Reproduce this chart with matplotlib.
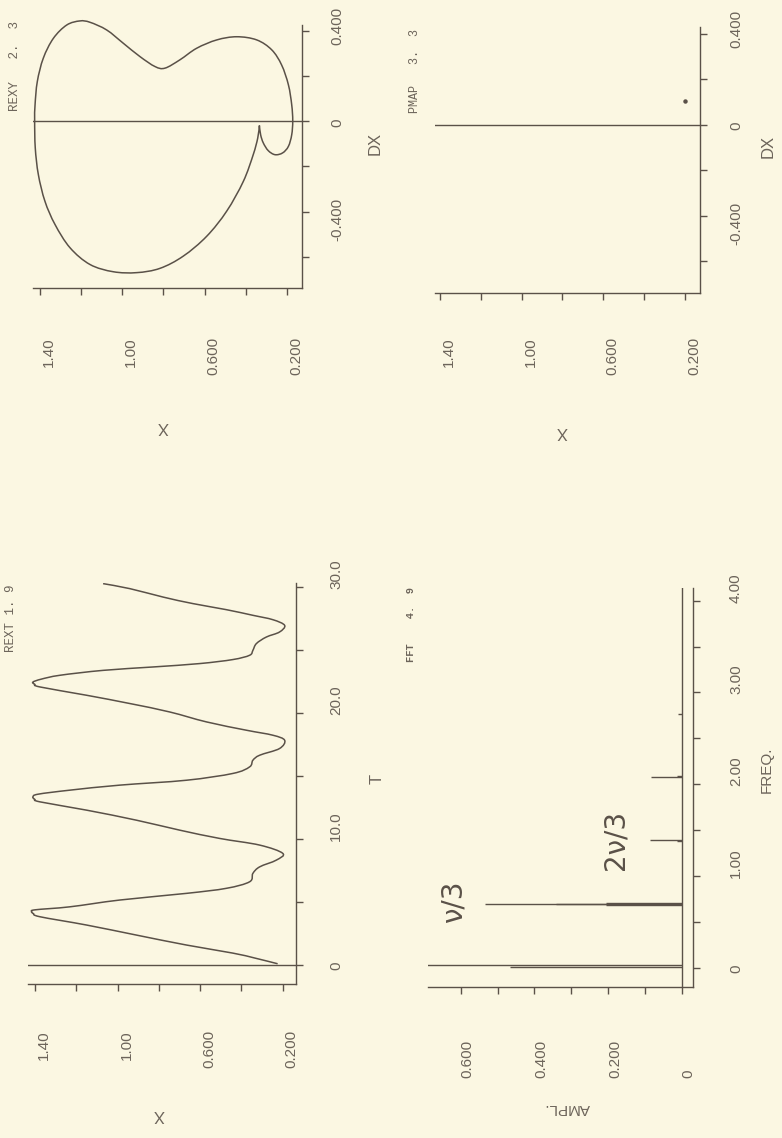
import matplotlib
matplotlib.use("Agg")
import matplotlib.pyplot as plt
import matplotlib.transforms as mtransforms
from matplotlib.path import Path
from matplotlib.patches import PathPatch

# ---------------- data ----------------
# REXT: x(t) time series
rext_t = [0.06, 0.52, 0.91, 1.55, 2.34, 3.14, 3.80, 4.05, 4.20, 4.35, 4.59, 5.13, 5.66, 6.06,
          6.58, 7.25, 7.77, 8.30, 8.84, 9.50, 10.03, 10.69, 11.48, 12.28, 12.94, 13.15, 13.34,
          13.55, 13.87, 14.27, 14.66, 15.20, 15.72, 16.25, 16.65, 17.18, 17.84, 18.24, 18.64,
          19.30, 20.09, 20.76, 21.42, 22.08, 22.30, 22.47, 22.70, 23.01, 23.40, 23.67, 23.94,
          24.26, 24.60, 24.99, 25.53, 26.05, 26.45, 26.98, 27.43, 27.78, 28.23, 28.71, 29.23,
          29.90, 30.30]
rext_x = [0.224, 0.336, 0.442, 0.666, 0.908, 1.150, 1.376, 1.408, 1.416, 1.400, 1.231, 0.989,
          0.666, 0.473, 0.360, 0.344, 0.311, 0.231, 0.199, 0.311, 0.505, 0.699, 0.908, 1.150,
          1.376, 1.402, 1.410, 1.385, 1.231, 0.989, 0.666, 0.441, 0.360, 0.344, 0.311, 0.215,
          0.190, 0.247, 0.376, 0.569, 0.747, 0.940, 1.150, 1.376, 1.402, 1.410, 1.370, 1.279,
          1.070, 0.828, 0.602, 0.441, 0.360, 0.344, 0.327, 0.279, 0.215, 0.190, 0.247, 0.344,
          0.473, 0.634, 0.779, 0.940, 1.070]

# REXY: phase portrait (dx/dt against x), starting and ending at the cusp
rexy_dx = [-0.019, -0.060, -0.096, -0.130, -0.148, -0.140, -0.111, -0.060, 0.002, 0.073,
           0.161, 0.249, 0.316, 0.360, 0.374, 0.360, 0.323, 0.272, 0.235, 0.242, 0.286, 0.345,
           0.404, 0.438, 0.444, 0.426, 0.367, 0.279, 0.176, 0.073, 0.002, -0.118, -0.236,
           -0.354, -0.457, -0.560, -0.634, -0.666, -0.670, -0.651, -0.597, -0.509, -0.398,
           -0.266, -0.148, -0.074, -0.019]
rexy_x = [0.334, 0.328, 0.315, 0.291, 0.258, 0.221, 0.193, 0.177, 0.172, 0.177, 0.193, 0.226,
          0.274, 0.347, 0.444, 0.541, 0.639, 0.720, 0.793, 0.841, 0.914, 0.995, 1.076, 1.157,
          1.206, 1.270, 1.335, 1.384, 1.413, 1.424, 1.426, 1.423, 1.408, 1.376, 1.327, 1.254,
          1.157, 1.044, 0.930, 0.817, 0.704, 0.590, 0.493, 0.412, 0.364, 0.342, 0.334]

# PMAP: Poincare section
pmap_dx = [0.105]
pmap_x = [0.200]

# FFT spectrum
fft_freq = [0.015, 0.030, 0.685, 0.692, 0.700, 0.708, 1.380, 1.390, 2.080, 2.090, 2.770]
fft_ampl = [0.467, 0.750, 0.205, 0.340, 0.535, 0.205, 0.012, 0.087, 0.082, 0.012, 0.010]

x_ticks = [0.2, 0.4, 0.6, 0.8, 1.0, 1.2, 1.4]
x_labels = {1.4: "1.40", 1.0: "1.00", 0.6: "0.600", 0.2: "0.200"}
dx_ticks = [-0.6, -0.4, -0.2, 0.0, 0.2, 0.4]
dx_labels = {-0.4: "-0.400", 0.0: "0", 0.4: "0.400"}
t_ticks = [0, 5, 10, 15, 20, 25, 30]
t_labels = {0: "0", 10: "10.0", 20: "20.0", 30: "30.0"}
f_ticks = [0, 0.5, 1, 1.5, 2, 2.5, 3, 3.5, 4]
f_labels = {0: "0", 1: "1.00", 2: "2.00", 3: "3.00", 4: "4.00"}
a_ticks = [0, 0.1, 0.2, 0.3, 0.4, 0.5, 0.6]
a_labels = {0.6: "0.600", 0.4: "0.400", 0.2: "0.200", 0.0: "0"}

# ---------------- style ----------------
PAPER = "#fbf7e2"
INK = "#5a5148"
TXT = "#6c645a"
FONT = "Liberation Sans"
MONO = "Liberation Mono"

W, H = 782, 1138
fig = plt.figure(figsize=(W / 100, H / 100), dpi=100, facecolor=PAPER)


def px_axes(x0, y0, x1, y1):
    """Axes placed by pixel box (top-left origin); the page is printed sideways."""
    ax = fig.add_axes([x0 / W, 1 - y1 / H, (x1 - x0) / W, (y1 - y0) / H])
    ax.set_facecolor("none")
    ax.spines["top"].set_visible(False)
    ax.spines["left"].set_visible(False)
    for s in ("bottom", "right"):
        ax.spines[s].set_color(INK)
        ax.spines[s].set_linewidth(1.0)
    ax.yaxis.tick_right()
    ax.tick_params(direction="out", length=5, width=1.0, colors=INK,
                   labelbottom=False, labelright=False, labelleft=False)
    return ax


def smooth_line(ax, xs, ys, **kw):
    """Pen-plotter style trace: a Catmull-Rom curve through the sampled points."""
    pts = list(zip(xs, ys))
    n = len(pts)
    verts, codes = [pts[0]], [Path.MOVETO]
    for i in range(n - 1):
        p0 = pts[i - 1] if i > 0 else pts[i]
        p1, p2 = pts[i], pts[i + 1]
        p3 = pts[i + 2] if i + 2 < n else pts[i + 1]
        c1 = (p1[0] + (p2[0] - p0[0]) / 6, p1[1] + (p2[1] - p0[1]) / 6)
        c2 = (p2[0] - (p3[0] - p1[0]) / 6, p2[1] - (p3[1] - p1[1]) / 6)
        verts += [c1, c2, p2]
        codes += [Path.CURVE4] * 3
    ax.add_patch(PathPatch(Path(verts, codes), fill=False, **kw))


def bottom_labels(ax, labels, y_px, va, dx=2, size=11):
    tr = mtransforms.blended_transform_factory(ax.transData, fig.transFigure)
    for v, s in labels.items():
        t = mtransforms.offset_copy(tr, fig=fig, x=dx, y=0, units="dots")
        ax.text(v, 1 - y_px / H, s, transform=t, rotation=90, ha="left", va=va,
                fontsize=size, family=FONT, color=TXT)


def right_labels(ax, labels, x_px, size=11, zero_shift=-3, other_shift=2, special=None):
    tr = mtransforms.blended_transform_factory(fig.transFigure, ax.transData)
    for v, s in labels.items():
        if special and v in special:
            va, sh = special[v]
        elif s == "0":
            va, sh = "top", zero_shift
        else:
            va, sh = "bottom", other_shift
        t = mtransforms.offset_copy(tr, fig=fig, x=0, y=-sh, units="dots")
        ax.text(x_px / W, v, s, transform=t, rotation=90, ha="center", va=va,
                fontsize=size, family=FONT, color=TXT)


def fig_text(x, y, s, rot=90, size=12, **kw):
    fig.text(x / W, 1 - y / H, s, rotation=rot, ha=kw.pop("ha", "center"),
             va=kw.pop("va", "center"), fontsize=size, family=kw.pop("family", FONT),
             color=kw.pop("color", TXT), **kw)


# ---------------- REXY ----------------
ax1 = px_axes(33, 25, 302, 288)
smooth_line(ax1, rexy_x, rexy_dx, color=INK, lw=1.1, clip_on=False)
ax1.axhline(0, color=INK, lw=1.0)
ax1.set_xlim(1.434, 0.127)
ax1.set_ylim(-0.738, 0.426)
ax1.set_xticks(x_ticks)
ax1.set_yticks(dx_ticks)
bottom_labels(ax1, x_labels, 337, "top")
right_labels(ax1, dx_labels, 337, special={0.4: ("center", -5), -0.4: ("center", 8)})
fig_text(163, 427, "X", rot=180)
fig_text(375, 143, "DX")
fig_text(15, 21, "REXY   2.  3", size=9, va="top", family=MONO)

# ---------------- PMAP ----------------
ax2 = px_axes(435, 27, 700, 293)
ax2.plot(pmap_x, pmap_dx, "o", color=INK, ms=2.2)
ax2.axhline(0, color=INK, lw=1.0)
ax2.set_xlim(1.424, 0.127)
ax2.set_ylim(-0.741, 0.431)
ax2.set_xticks(x_ticks)
ax2.set_yticks(dx_ticks)
bottom_labels(ax2, x_labels, 337, "top")
right_labels(ax2, dx_labels, 736, special={0.4: ("center", -5), -0.4: ("center", 8)})
fig_text(562, 432, "X", rot=180)
fig_text(768, 146, "DX")
fig_text(415, 29, "PMAP   3.  3", size=8.5, va="top", family=MONO)

# ---------------- REXT ----------------
ax3 = px_axes(28, 583, 296, 984)
smooth_line(ax3, rext_x, rext_t, color=INK, lw=1.1)
ax3.axhline(0, color=INK, lw=1.0)
ax3.set_xlim(1.434, 0.135)
ax3.set_ylim(-1.55, 30.35)
ax3.set_xticks(x_ticks)
ax3.set_yticks(t_ticks)
bottom_labels(ax3, x_labels, 1030, "top")
right_labels(ax3, t_labels, 336)
fig_text(159, 1114, "X", rot=180)
fig_text(377, 779, "T")
fig_text(11, 585, "REXT 1. 9", size=9, va="top", family=MONO)

# ---------------- FFT ----------------
ax4 = px_axes(428, 588, 693, 987)
ax4.hlines(fft_freq, 0, fft_ampl, color=INK, lw=1.0)
ax4.axvline(0, color=INK, lw=1.0)
ax4.set_xlim(0.689, -0.031)
ax4.set_ylim(-0.207, 4.137)
ax4.set_xticks(a_ticks)
ax4.set_yticks(f_ticks)
bottom_labels(ax4, a_labels, 1078, "bottom", dx=0)
right_labels(ax4, f_labels, 736)
fig_text(567, 1108, "AMPL.", rot=180, size=11)
fig_text(767, 770, "FREQ.", size=11)
fig_text(411, 587, "FFT    4.  9", size=7.5, va="top", weight="bold", family=MONO)
fig_text(454, 902, "ν/3", size=20, family="DejaVu Sans", color=INK)
fig_text(615, 840, "2ν/3", size=20, family="DejaVu Sans", color=INK)

fig.savefig("out.png", dpi=100, facecolor=PAPER)
